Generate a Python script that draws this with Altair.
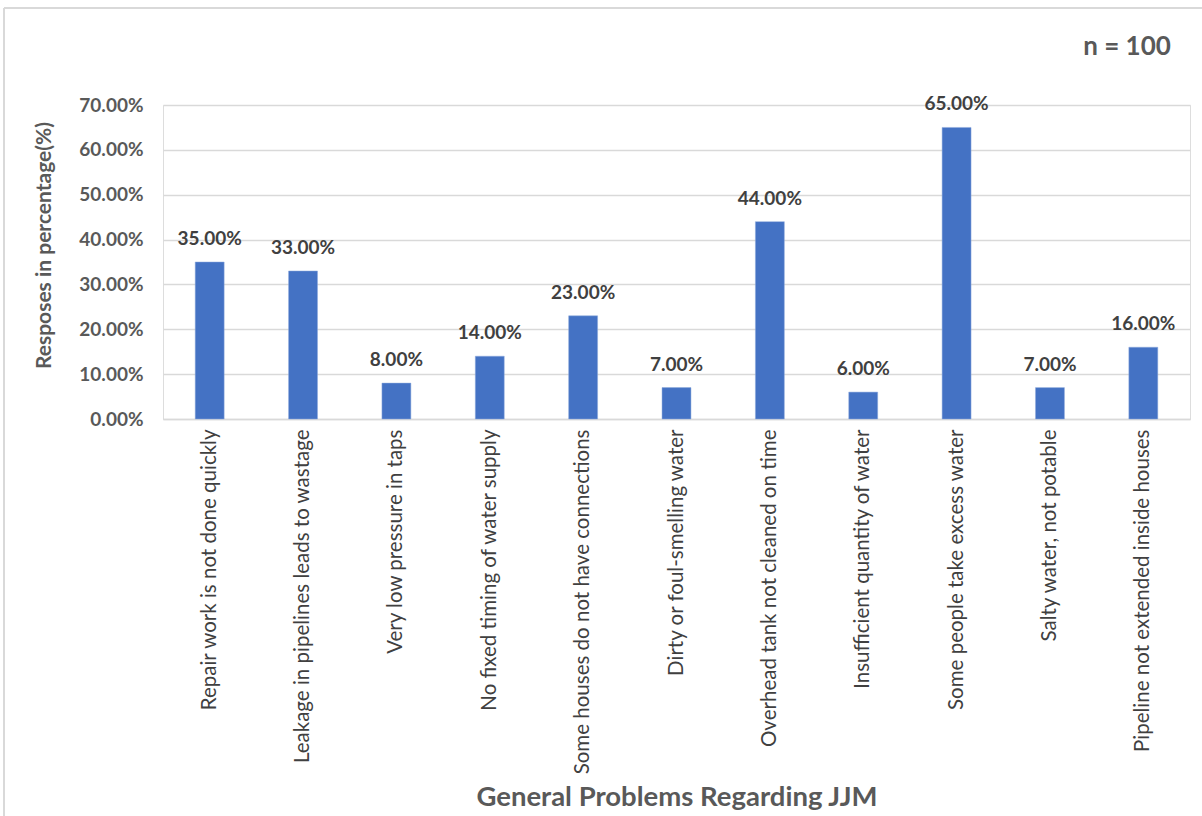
import altair as alt
import pandas as pd

problems = [
    "Repair work is not done quickly",
    "Leakage in pipelines leads to wastage",
    "Very low pressure in taps",
    "No fixed timing of water supply",
    "Some houses do not have connections",
    "Dirty or foul-smelling water",
    "Overhead tank not cleaned on time",
    "Insufficient quantity of water",
    "Some people take excess water",
    "Salty water, not potable",
    "Pipeline not extended inside houses",
]
shares = [0.35, 0.33, 0.08, 0.14, 0.23, 0.07, 0.44, 0.06, 0.65, 0.07, 0.16]

df = pd.DataFrame({"problem": problems, "share": shares})

FONT = "Lato"
W, H = 1027, 314

x_enc = alt.X(
    "problem:N",
    sort=problems,
    scale=alt.Scale(paddingInner=0.69, paddingOuter=0.345),
    axis=alt.Axis(
        title="General Problems Regarding JJM",
        titleFont=FONT, titleFontSize=27.5, titleFontWeight="bold", titleColor="#595959",
        titleY=378, titleBaseline="middle",
        labelAngle=-90, labelAlign="right", labelBaseline="middle",
        labelFont=FONT, labelFontSize=20.5, labelColor="#404040", labelPadding=10,
        labelLimit=400, ticks=False, domainColor="#d9d9d9", domainWidth=1.5,
    ),
)
y_enc = alt.Y(
    "share:Q",
    scale=alt.Scale(domain=[0, 0.7]),
    axis=alt.Axis(
        title="Resposes in percentage(%)",
        titleFont=FONT, titleFontSize=21, titleFontWeight="bold", titleColor="#595959",
        titleX=-119, titleY=140, titleAngle=-90, titleAlign="center", titleBaseline="middle",
        format=".2%", values=[0, 0.1, 0.2, 0.3, 0.4, 0.5, 0.6, 0.7],
        labelFont=FONT, labelFontSize=19, labelFontWeight="bold", labelColor="#595959",
        labelPadding=20, ticks=False, domain=False,
        gridColor="#d9d9d9", gridWidth=1.5,
    ),
)

bars = alt.Chart(df).mark_bar(color="#4472C4", stroke="#8FAADC", strokeWidth=0.5).encode(x=x_enc, y=y_enc)

labels = alt.Chart(df).mark_text(
    font=FONT, fontSize=19, fontWeight="bold", color="#404040", baseline="bottom", dy=-13
).encode(
    x=alt.X("problem:N", sort=problems),
    y="share:Q",
    text=alt.Text("share:Q", format=".2%"),
)

note = alt.Chart(pd.DataFrame({"t": ["n = 100"]})).mark_text(
    font=FONT, fontSize=26, fontWeight="bold", color="#595959", align="center", baseline="middle"
).encode(x=alt.value(964), y=alt.value(-58), text="t:N")

frame_top = alt.Chart(pd.DataFrame({"k": [0]})).mark_rule(color="#d9d9d9", strokeWidth=2).encode(
    x=alt.value(-159), x2=alt.value(1202 - 163), y=alt.value(-97)
)
frame_left = alt.Chart(pd.DataFrame({"k": [0]})).mark_rule(color="#d9d9d9", strokeWidth=2).encode(
    x=alt.value(-159), y=alt.value(-97), y2=alt.value(816 - 105)
)

chart = (
    alt.layer(bars, labels, note, frame_top, frame_left)
    .properties(
        width=W, height=H,
        autosize=alt.AutoSizeParams(type="none"),
        padding={"left": 163, "top": 105, "right": 1202 - 163 - W, "bottom": 816 - 105 - H},
    )
    .configure_view(stroke=None)
    .configure(background="white")
)

chart.save("out.html", embed_options={"renderer": "svg", "actions": False})
